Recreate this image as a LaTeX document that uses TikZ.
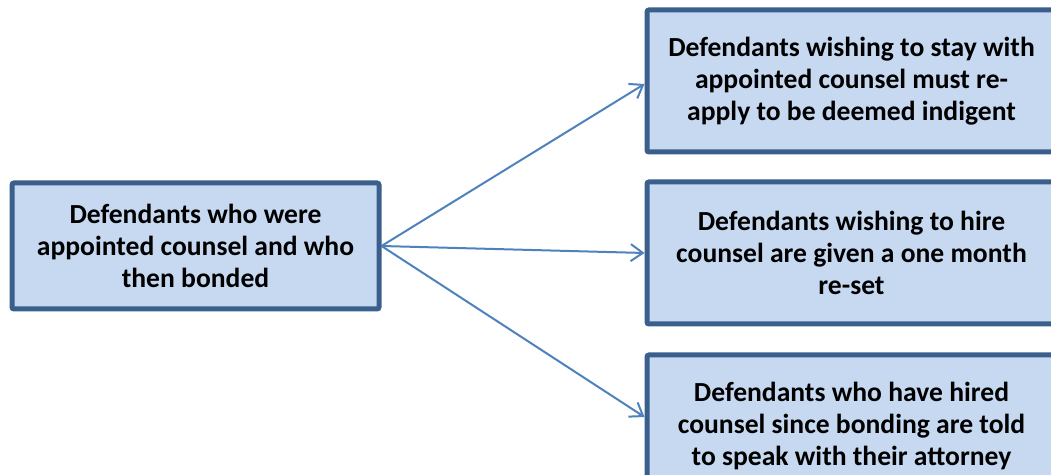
\documentclass[tikz,border=0pt]{standalone}
\usepackage{fontspec}
\setmainfont{Carlito}
\usetikzlibrary{arrows.meta}
\definecolor{boxfill}{HTML}{C6D9F1}
\definecolor{boxline}{HTML}{3A5F8C}
\definecolor{linkline}{HTML}{4F81BD}

\begin{document}
\begin{tikzpicture}[x=0.5pt, y=-0.5pt,
  casebox/.style={draw=boxline, fill=boxfill, line width=2.5pt, rounded corners=1pt,
    align=center, inner sep=0pt, font=\bfseries\fontsize{13.8}{16}\selectfont},
  leftbox/.style={casebox, minimum width=183.5pt, minimum height=63pt},
  rightbox/.style={casebox, minimum width=204.5pt, minimum height=71pt},
  link/.style={draw=linkline, line width=1pt, -{Straight Barb[length=6pt, width=8.5pt]}}]
\useasboundingbox (0,0) rectangle (1051,475);
\clip (0,0) rectangle (1051,475);
\node[leftbox] (bonded) at (195.5,246) {Defendants who were\\appointed counsel and who\\then bonded};
\node[rightbox] (stay) at (851.5,81) {Defendants wishing to stay with\\appointed counsel must re-\\apply to be deemed indigent};
\node[rightbox] (hire) at (851.5,253) {Defendants wishing to hire\\counsel are given a one month\\re-set};
\node[rightbox] (hired) at (851.5,426) {Defendants who have hired\\counsel since bonding are told\\to speak with their attorney};
\draw[link] (bonded.east) -- ([yshift=-1.5pt]stay.west);
\draw[link] (bonded.east) -- (hire.west);
\draw[link] (bonded.east) -- ([yshift=4.5pt]hired.west);
\end{tikzpicture}
\end{document}
